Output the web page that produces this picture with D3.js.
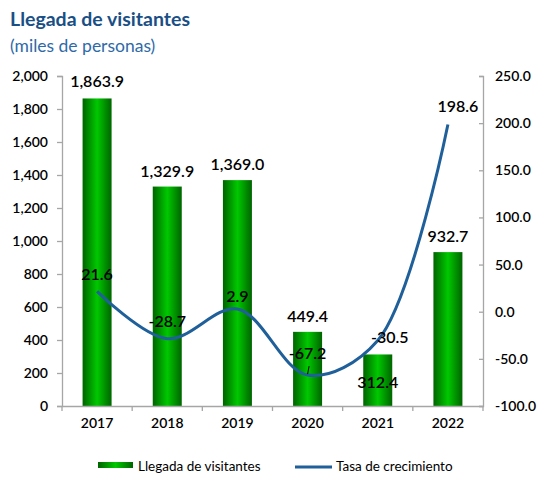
<!DOCTYPE html>
<html><head><meta charset="utf-8">
<script src="https://cdn.jsdelivr.net/npm/d3@7"></script>
<style>body{margin:0;background:#fff}text{font-family:Lato,"DejaVu Sans",sans-serif}</style>
</head><body><svg id="c" width="540" height="477"></svg>
<script>
const years = ["2017","2018","2019","2020","2021","2022"];
const llegadas = [1863.9, 1329.9, 1369.0, 449.4, 312.4, 932.7];
const tasa = [21.6, -28.7, 2.9, -67.2, -30.5, 198.6];
const leftTicks = [0,200,400,600,800,1000,1200,1400,1600,1800,2000];
const rightTicks = [-100,-50,0,50,100,150,200,250];

const svg = d3.select("#c");
const L = 62, R = 483, T = 76, B = 406;
const x = d3.scaleBand().domain(years).range([L, R]);
const yL = d3.scaleLinear().domain([0, 2000]).range([B, T]);
const yR = d3.scaleLinear().domain([-100, 250]).range([B, T]);
const hy = s => s.replace(/\u2212/g, "-");
const f1 = v => hy(d3.format(".1f")(v));

const defs = svg.append("defs");
const g = defs.append("linearGradient").attr("id","bg").attr("x1","0").attr("x2","1").attr("y1","0").attr("y2","0");
g.append("stop").attr("offset","0").attr("stop-color","#006400");
g.append("stop").attr("offset","0.5").attr("stop-color","#00c800");
g.append("stop").attr("offset","1").attr("stop-color","#006400");

// title
svg.append("text").attr("x",10).attr("y",26).attr("font-size",19.5).attr("font-weight","bold").attr("fill","#1a4f86").text("Llegada de visitantes");
svg.append("text").attr("x",10).attr("y",52).attr("font-size",17.5).attr("fill","#2e6aa8").text("(miles de personas)");

// bars
const bw = 29;
svg.selectAll("rect.bar").data(years).join("rect").attr("class","bar")
  .attr("x", d => x(d) + x.bandwidth()/2 - bw/2)
  .attr("width", bw)
  .attr("y", (d,i) => yL(llegadas[i]))
  .attr("height", (d,i) => B - yL(llegadas[i]))
  .attr("fill","url(#bg)");

// axes
const axCol = "#a6a6a6";
const aL = svg.append("g").attr("transform",`translate(${L},0)`).call(d3.axisLeft(yL).tickValues(leftTicks).tickSize(5).tickFormat(d3.format(",")));
const aR = svg.append("g").attr("transform",`translate(${R},0)`).call(d3.axisRight(yR).tickValues(rightTicks).tickSize(-4).tickFormat(f1));
const aB = svg.append("g").attr("transform",`translate(0,${B})`).call(d3.axisBottom(x).tickSize(0));
[aL,aR,aB].forEach(a => { a.select(".domain").attr("stroke",axCol).attr("stroke-width",1.3); a.selectAll(".tick line").attr("stroke",axCol).attr("stroke-width",1.3); a.selectAll("text").attr("fill","#000").attr("font-size",14).attr("font-weight","600").style("font-family","Lato,'DejaVu Sans',sans-serif"); });
aL.selectAll("text").attr("x",-14);
aR.selectAll("text").attr("x",12);
aB.selectAll("text").attr("dy","1.35em").attr("font-size",14);
// category separator ticks
const bounds = years.slice(1).map(d => x(d)).concat([L, R]);
svg.selectAll("line.ct").data(bounds).join("line").attr("class","ct")
  .attr("x1",d=>d).attr("x2",d=>d).attr("y1",B).attr("y2",B+5).attr("stroke",axCol).attr("stroke-width",1.3);

// line
const cx = d => x(d) + x.bandwidth()/2;
const line = d3.line().x((d,i)=>cx(years[i])).y(d=>yR(d)).curve(d3.curveCatmullRom.alpha(0.5));
svg.append("path").datum(tasa).attr("d",line).attr("fill","none").attr("stroke","#1f5f9a").attr("stroke-width",3);

// bar labels (baseline offsets from bar top)
const barLabOff = [-11,-10,-10,-10,34,-10.5];
svg.selectAll("text.bl").data(years).join("text").attr("class","bl")
  .attr("x", d => cx(d)).attr("y",(d,i)=> yL(llegadas[i]) + barLabOff[i])
  .attr("text-anchor","middle").attr("font-size",16).attr("font-weight","600").attr("fill","#000")
  .text((d,i)=>d3.format(",.1f")(llegadas[i]));

// line labels
const lineLabOff = [-11,-12,-6.5,-16,3,-12];
const lineLabDx = [0,0,0,0,12,10];
svg.selectAll("text.ll").data(years).join("text").attr("class","ll")
  .attr("x", (d,i) => cx(d) + lineLabDx[i]).attr("y",(d,i)=> yR(tasa[i]) + lineLabOff[i])
  .attr("text-anchor","middle").attr("font-size",16).attr("font-weight","600").attr("fill","#000")
  .text((d,i)=>f1(tasa[i]));
// leader line for 2020
svg.append("line").attr("x1",cx("2020")+1.5).attr("x2",cx("2020")).attr("y1",yR(-67.2)-9).attr("y2",yR(-67.2)-1).attr("stroke","#000").attr("stroke-width",1);

// legend
svg.append("rect").attr("x",98).attr("y",462).attr("width",35).attr("height",6).attr("fill","url(#bg)");
svg.append("text").attr("x",138).attr("y",471).attr("font-size",13.5).attr("fill","#000").text("Llegada de visitantes");
svg.append("line").attr("x1",295).attr("x2",332).attr("y1",467).attr("y2",467).attr("stroke","#1f5f9a").attr("stroke-width",3);
svg.append("text").attr("x",336).attr("y",471).attr("font-size",13.5).attr("fill","#000").text("Tasa de crecimiento");
</script></body></html>
